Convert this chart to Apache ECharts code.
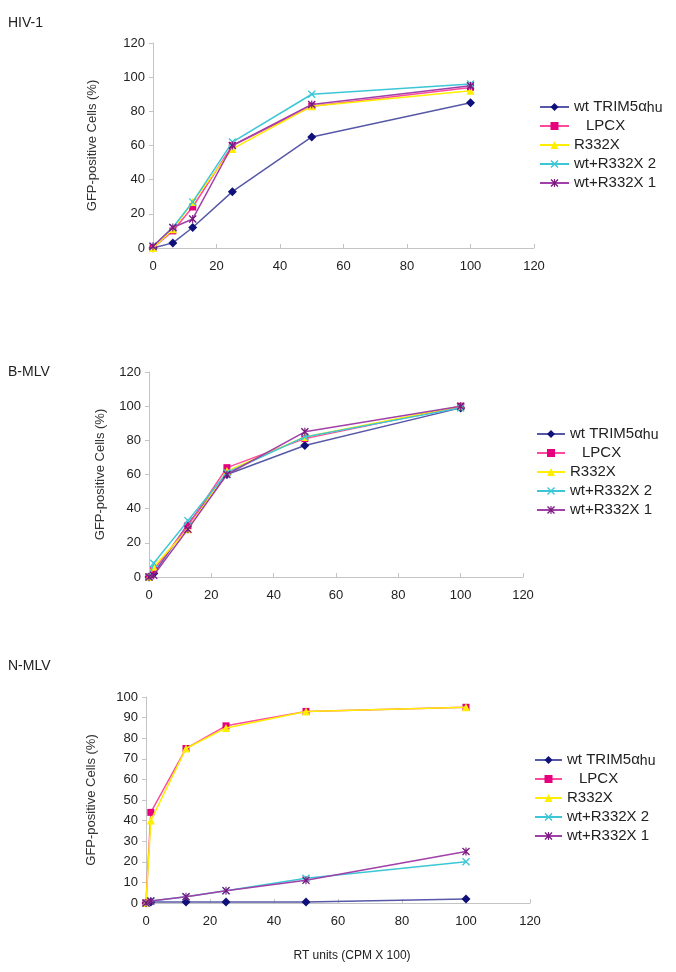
<!DOCTYPE html>
<html>
<head>
<meta charset="utf-8">
<script src="https://cdn.jsdelivr.net/npm/echarts@6/dist/echarts.min.js"></script>
<style>
html,body{margin:0;padding:0;background:#fff;}
#c{width:676px;height:972px;}
</style>
</head>
<body>
<div id="c"></div>
<script>
// ---- data ----
const seriesNames = ['wt TRIM5α', 'LPCX', 'R332X', 'wt+R332X 2', 'wt+R332X 1'];
const panelTitles = ['HIV-1', 'B-MLV', 'N-MLV'];

const xHIV = [0, 6.25, 12.5, 25, 50, 100];
const hivWt   = [0, 3, 12, 33, 65, 85];
const hivLPCX = [0, 10, 24, 60, 83, 94];
const hivR332X = [0, 11, 27, 58, 83, 92];
const hivWtR2 = [1, 12, 27, 62, 90, 96];
const hivWtR1 = [1, 12, 17, 60, 84, 95];

const xBMLV = [0, 1.5, 12.5, 25, 50, 100];
const bWt   = [0, 2, 31, 60, 77, 99];
const bLPCX = [0, 4, 30, 64, 81, 100];
const bR332X = [0, 6, 28, 62, 82, 100];
const bWtR2 = [0, 8, 33, 61, 82, 99];
const bWtR1 = [0, 1, 28, 60, 85, 100];

const xNMLV = [0, 1.5, 12.5, 25, 50, 100];
const nWt   = [0, 0.5, 0.5, 0.5, 0.5, 2];
const nLPCX = [0, 44, 75, 86, 93, 95];
const nR332X = [0, 40, 75, 85, 93, 95];
const nWtR2 = [0, 1, 3, 6, 12, 20];
const nWtR1 = [0, 1, 3, 6, 11, 25];

const xTicks = [0, 20, 40, 60, 80, 100, 120];
const yTicks120 = [0, 20, 40, 60, 80, 100, 120];
const yTicks100 = [0, 10, 20, 30, 40, 50, 60, 70, 80, 90, 100];

// ---- styles ----
const FONT = 'Liberation Sans';
const xMark = 'path://M0,1.2 L1.2,0 L5,3.8 L8.8,0 L10,1.2 L6.2,5 L10,8.8 L8.8,10 L5,6.2 L1.2,10 L0,8.8 L3.8,5 Z';
const starMark = 'path://M0,1.2 L1.2,0 L5,3.8 L8.8,0 L10,1.2 L6.2,5 L10,8.8 L8.8,10 L5,6.2 L1.2,10 L0,8.8 L3.8,5 Z M4.3,0 L5.7,0 L5.7,10 L4.3,10 Z';
const styles = [
  {symbol: 'diamond', size: 9, line: '#5858a8', mark: '#10107a'},
  {symbol: 'rect', size: 7, line: '#ff4a9e', mark: '#e6007e'},
  {symbol: 'triangle', size: 8, line: '#ffee00', mark: '#ffee00'},
  {symbol: xMark, size: 8, line: '#3cc6d6', mark: '#3cc6d6'},
  {symbol: starMark, size: 8, line: '#a040a8', mark: '#7a1a80'}
];

const panels = [
  {x: xHIV, ys: [hivWt, hivLPCX, hivR332X, hivWtR2, hivWtR1], ymax: 120, yint: 20,
   grid: {left: 153, top: 43, width: 381, height: 205}, titleTop: 11,
   legendTop: 90, legendLeft: 534, legendW: 29, yNameGap: 54},
  {x: xBMLV, ys: [bWt, bLPCX, bR332X, bWtR2, bWtR1], ymax: 120, yint: 20,
   grid: {left: 149, top: 372, width: 374, height: 205}, titleTop: 360,
   legendTop: 417, legendLeft: 531, legendW: 28, yNameGap: 42},
  {x: xNMLV, ys: [nWt, nLPCX, nR332X, nWtR2, nWtR1], ymax: 100, yint: 10,
   grid: {left: 146, top: 697, width: 384, height: 206}, titleTop: 654,
   legendTop: 743, legendLeft: 529, legendW: 27, yNameGap: 48}
];

const grids = [], xAxes = [], yAxes = [], series = [], legends = [], titles = [];
panels.forEach((p, i) => {
  grids.push(Object.assign({containLabel: false}, p.grid));
  titles.push({text: panelTitles[i], left: 3, top: p.titleTop,
    textStyle: {fontFamily: FONT, fontSize: 14, fontWeight: 'normal', color: '#222'}});
  xAxes.push({
    type: 'value', gridIndex: i, min: 0, max: 120, interval: 20,
    axisLine: {show: true, lineStyle: {color: '#c4c4c4', width: 1}},
    axisTick: {show: true, inside: true, length: 4, lineStyle: {color: '#c4c4c4'}},
    axisLabel: {fontFamily: FONT, fontSize: 13, color: '#222', margin: 12},
    splitLine: {show: false},
    name: i === 2 ? 'RT units (CPM X 100)' : '',
    nameLocation: 'middle', nameGap: 47,
    nameTextStyle: {fontFamily: FONT, fontSize: 12, color: '#222', padding: [0, 0, 0, 28]}
  });
  yAxes.push({
    type: 'value', gridIndex: i, min: 0, max: p.ymax, interval: p.yint,
    axisLine: {show: true, lineStyle: {color: '#c4c4c4', width: 1}},
    axisTick: {show: true, inside: false, length: 4, lineStyle: {color: '#c4c4c4'}},
    axisLabel: {fontFamily: FONT, fontSize: 13, color: '#222', margin: 8},
    splitLine: {show: false},
    name: 'GFP-positive Cells (%)',
    nameLocation: 'middle', nameRotate: 90, nameGap: p.yNameGap,
    nameTextStyle: {fontFamily: FONT, fontSize: 13, color: '#333'}
  });
  p.ys.forEach((ys, k) => {
    const st = styles[k];
    series.push({
      name: seriesNames[k], type: 'line', xAxisIndex: i, yAxisIndex: i,
      data: p.x.map((xv, j) => [xv, ys[j]]),
      symbol: st.symbol, symbolSize: st.size, showAllSymbol: true,
      lineStyle: {color: st.line, width: 1.5},
      itemStyle: {color: st.mark, borderWidth: 0},
      animation: false, z: 2 + k
    });
  });
  legends.push({
    orient: 'vertical', left: p.legendLeft, top: p.legendTop,
    data: seriesNames.slice(), selectedMode: false,
    itemWidth: p.legendW, itemHeight: 10, itemGap: 3,
    textStyle: {fontFamily: FONT, fontSize: 15, color: '#222', lineHeight: 16,
      rich: {
        a: {fontFamily: FONT, fontSize: 15, color: '#222', lineHeight: 16},
        s: {fontFamily: FONT, fontSize: 14, color: '#222', verticalAlign: 'bottom', padding: [6, 0, 0, 0], lineHeight: 16},
        ind: {fontFamily: FONT, fontSize: 15, color: '#222', padding: [0, 0, 0, 12], lineHeight: 16}
      }},
    formatter: function (name) {
      if (name === 'wt TRIM5α') return '{a|wt TRIM5α}{s|hu}';
      if (name === 'LPCX') return '{ind|LPCX}';
      return name;
    }
  });
});

const chart = echarts.init(document.getElementById('c'), null, {renderer: 'canvas'});
chart.setOption({
  backgroundColor: '#fff',
  animation: false,
  title: titles,
  grid: grids,
  xAxis: xAxes,
  yAxis: yAxes,
  legend: legends,
  series: series
});
</script>
</body>
</html>
